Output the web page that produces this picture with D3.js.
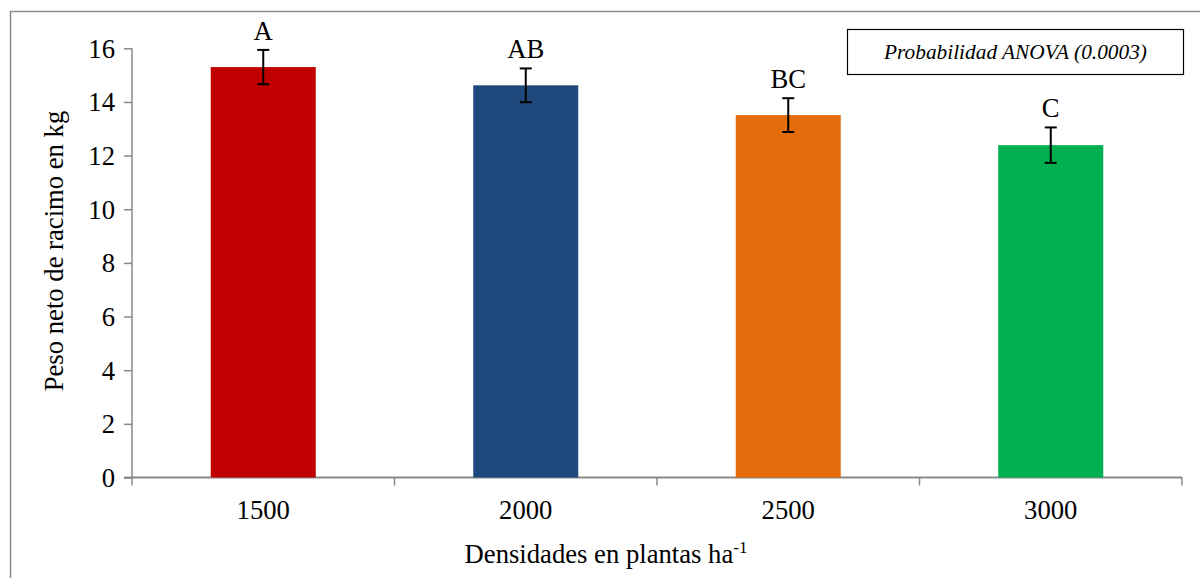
<!DOCTYPE html>
<html><head><meta charset="utf-8">
<script src="https://cdn.jsdelivr.net/npm/d3@7/dist/d3.min.js"></script>
<style>html,body{margin:0;padding:0;background:#fff;}svg{display:block;}</style>
</head><body><svg id="c" width="1200" height="578"></svg>
<script>
const categories = ["1500", "2000", "2500", "3000"];
const values = [15.30, 14.62, 13.51, 12.39];
const errors = [0.64, 0.63, 0.63, 0.66];
const letters = ["A", "AB", "BC", "C"];
const colors = ["#C00000", "#1F497D", "#E46C0A", "#00B050"];
const yTicks = [0, 2, 4, 6, 8, 10, 12, 14, 16];
const yTitle = "Peso neto de racimo en kg";
const xTitle = "Densidades en plantas ha";
const xTitleSup = "-1";
const noteText = "Probabilidad ANOVA (0.0003)";

(function () {
const svg = d3.select("#c");
const FONT = "Liberation Serif";
const axisColor = "#898989";
const fs = "26.67px";

// outer frame
svg.append("rect").attr("x", 10.5).attr("y", 11.5).attr("width", 1300).attr("height", 700)
  .attr("fill", "none").attr("stroke", "#8c8c8c").attr("stroke-width", 1.5);

const pl = 132, pr = 1182, pt = 48.3, pb = 477.5;
const x = d3.scaleBand().domain(categories).range([pl, pr]).paddingInner(0.6).paddingOuter(0.3);
const xb = d3.scaleBand().domain(categories).range([pl, pr]);
const y = d3.scaleLinear().domain([0, 16]).range([pb, pt]);

// y axis
const ya = svg.append("g").attr("transform", `translate(${pl},0)`)
  .call(d3.axisLeft(y).tickValues(yTicks).tickSize(8).tickPadding(9));
ya.attr("font-family", null).attr("font-size", null);
ya.select(".domain").attr("d", `M-0,${y(16)}H0V${pb}`);
ya.selectAll("path,line").attr("stroke", axisColor).attr("stroke-width", 1.5);
ya.selectAll("text").style("font-family", FONT).style("font-size", fs).attr("fill", "#000").attr("dy", "0.33em");

// x axis
const xa = svg.append("g").attr("transform", `translate(0,${pb})`);
xa.append("line").attr("x1", pl - 8).attr("x2", pr).attr("y1", 0).attr("y2", 0)
  .attr("stroke", axisColor).attr("stroke-width", 2);
const bounds = categories.map(c => xb(c)).concat([pr]);
xa.selectAll("line.t").data(bounds).join("line").attr("class", "t")
  .attr("x1", d => d).attr("x2", d => d).attr("y1", 0).attr("y2", 8)
  .attr("stroke", axisColor).attr("stroke-width", 1.5);
xa.selectAll("text.l").data(categories).join("text").attr("class", "l")
  .attr("x", d => xb(d) + xb.bandwidth() / 2).attr("y", 41)
  .attr("text-anchor", "middle").style("font-family", FONT).style("font-size", fs).text(d => d);

// bars
const data = categories.map((c, i) => ({c, v: values[i], e: errors[i], l: letters[i], col: colors[i]}));
svg.append("g").selectAll("rect").data(data).join("rect")
  .attr("x", d => x(d.c)).attr("width", x.bandwidth())
  .attr("y", d => y(d.v)).attr("height", d => y(0) - y(d.v)).attr("fill", d => d.col);

// error bars
const eg = svg.append("g").attr("stroke", "#000").attr("stroke-width", 2);
data.forEach(d => {
  const cx = x(d.c) + x.bandwidth() / 2;
  eg.append("line").attr("x1", cx).attr("x2", cx).attr("y1", y(d.v + d.e)).attr("y2", y(d.v - d.e));
  eg.append("line").attr("x1", cx - 6).attr("x2", cx + 6).attr("y1", y(d.v + d.e)).attr("y2", y(d.v + d.e));
  eg.append("line").attr("x1", cx - 6).attr("x2", cx + 6).attr("y1", y(d.v - d.e)).attr("y2", y(d.v - d.e));
});

// letters
svg.append("g").selectAll("text").data(data).join("text")
  .attr("x", d => x(d.c) + x.bandwidth() / 2).attr("y", d => y(d.v + d.e) - 10)
  .attr("text-anchor", "middle").style("font-family", FONT).style("font-size", fs).text(d => d.l);

// note box
svg.append("rect").attr("x", 847.5).attr("y", 29.5).attr("width", 336).attr("height", 45)
  .attr("fill", "#fff").attr("stroke", "#000").attr("stroke-width", 1.2);
svg.append("text").attr("x", 1015.5).attr("y", 59).attr("text-anchor", "middle")
  .style("font-family", FONT).style("font-style", "italic").style("font-size", "21.33px").text(noteText);

// y title
svg.append("text").attr("transform", "translate(63,251) rotate(-90)").attr("text-anchor", "middle")
  .style("font-family", FONT).style("font-size", fs).text(yTitle);

// x title
const xt = svg.append("text").attr("x", 606).attr("y", 563).attr("text-anchor", "middle")
  .style("font-family", FONT).style("font-size", fs);
xt.append("tspan").text(xTitle);
xt.append("tspan").attr("dy", -10).style("font-size", "17px").text(xTitleSup);
})();
</script></body></html>
